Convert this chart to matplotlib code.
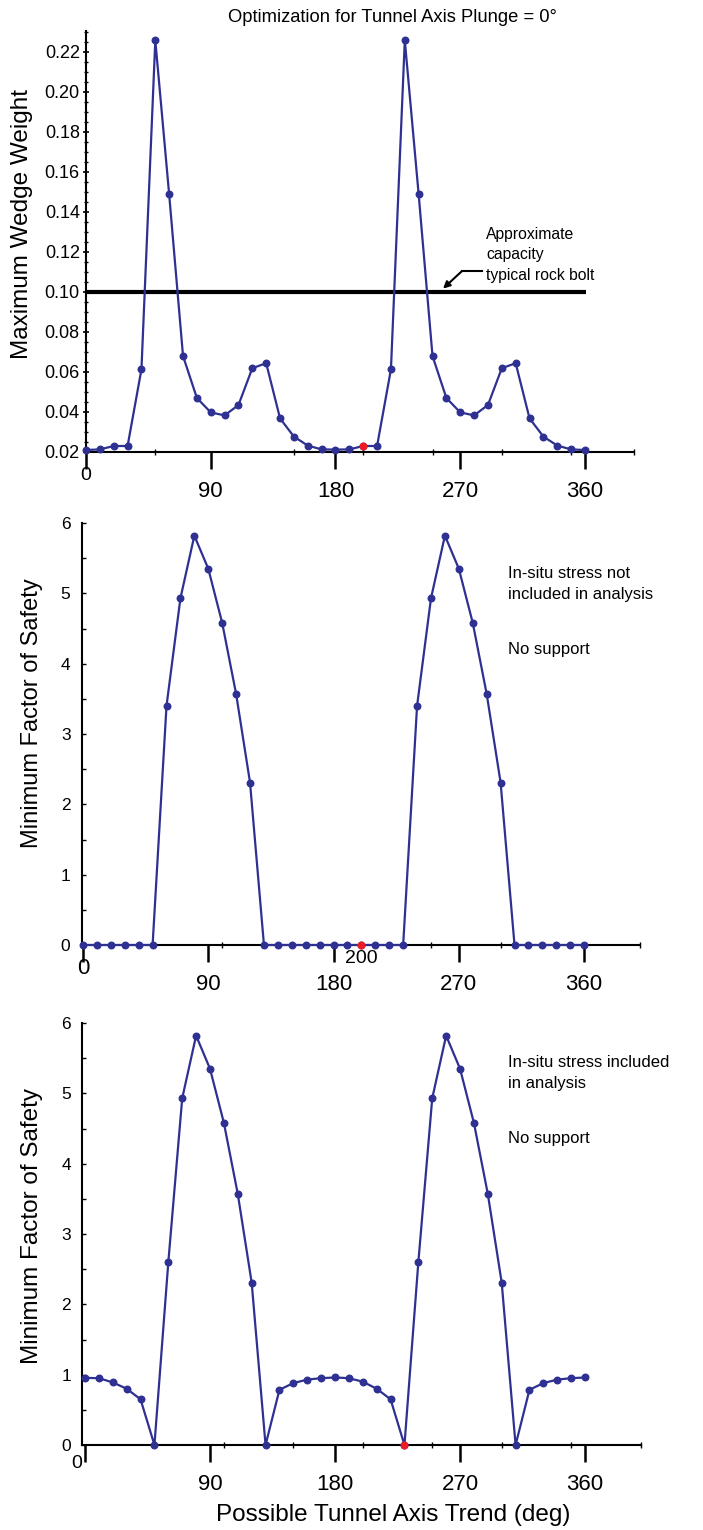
import matplotlib
matplotlib.use("Agg")
import matplotlib.pyplot as plt
from matplotlib.ticker import FixedLocator, MultipleLocator

plt.rcParams['font.family'] = ['Liberation Sans', 'DejaVu Sans']

# ---------------------------------------------- data ----------------------------------------------
trend = [0, 10, 20, 30, 40, 50, 60, 70, 80, 90, 100, 110, 120, 130, 140, 150, 160, 170, 180,
         190, 200, 210, 220, 230, 240, 250, 260, 270, 280, 290, 300, 310, 320, 330, 340, 350, 360]

max_weight = [0.0210, 0.0213, 0.0230, 0.0230, 0.0613, 0.2258, 0.1488, 0.0680, 0.0470, 0.0398,
              0.0383, 0.0435, 0.0619, 0.0644, 0.0368, 0.0277, 0.0232, 0.0213, 0.0212, 0.0213,
              0.0230, 0.0230, 0.0613, 0.2258, 0.1488, 0.0680, 0.0470, 0.0398, 0.0383, 0.0435,
              0.0619, 0.0644, 0.0368, 0.0277, 0.0232, 0.0213, 0.0210]

fs_no_stress = [0, 0, 0, 0, 0, 0, 3.40, 4.93, 5.82, 5.35, 4.58, 3.57, 2.31, 0, 0, 0, 0, 0, 0,
                0, 0, 0, 0, 0, 3.40, 4.93, 5.82, 5.35, 4.58, 3.57, 2.31, 0, 0, 0, 0, 0, 0]

fs_with_stress = [0.955, 0.95, 0.89, 0.80, 0.65, 0, 2.60, 4.93, 5.82, 5.35, 4.58, 3.57, 2.31, 0,
                  0.785, 0.88, 0.93, 0.95, 0.96, 0.95, 0.90, 0.80, 0.65, 0, 2.60, 4.93, 5.82, 5.35,
                  4.58, 3.57, 2.31, 0, 0.785, 0.88, 0.93, 0.95, 0.96]

# optimum trend for each panel (red point)
best_trend = [200, 200, 230]

bolt_capacity = 0.10
bolt_span = [0, 361]

major_ticks = [0, 90, 180, 270, 360]
major_labels = ['', '90', '180', '270', '360']

blue = '#2E3192'
red = '#ED1C24'

W, H = 703, 1530


def rect(left, right, top, bottom):
    # pixel box -> figure fraction
    return [left / W, 1 - bottom / H, (right - left) / W, (bottom - top) / H]


def style_x(ax, minor):
    ax.spines['top'].set_visible(False)
    ax.spines['right'].set_visible(False)
    ax.spines['left'].set_linewidth(1.5)
    ax.spines['bottom'].set_linewidth(1.5)
    ax.set_xticks(major_ticks)
    ax.set_xticklabels(major_labels)
    ax.xaxis.set_minor_locator(FixedLocator(minor))
    ax.tick_params(axis='x', which='major', direction='out', length=12, width=1.8,
                   labelsize=16, pad=9)
    ax.tick_params(axis='x', which='minor', direction='inout', length=4, width=1)


def draw_series(ax, y, best):
    ax.plot(trend, y, color=blue, lw=1.6, marker='o', ms=4.7, clip_on=False, zorder=3)
    i = trend.index(best)
    ax.plot(trend[i], y[i], 'o', color=red, ms=4.7, clip_on=False, zorder=4)


fig = plt.figure(figsize=(W / 100, H / 100), dpi=100)

# ---------------------------------------------- top panel ----------------------------------------------
ax1 = fig.add_axes(rect(86, 633.5, 31, 452))
draw_series(ax1, max_weight, best_trend[0])
ax1.hlines(bolt_capacity, bolt_span[0], bolt_span[1], color='black', lw=3, zorder=2)
ax1.set_xlim(0, 395)
ax1.set_ylim(0.02, 0.2305)
style_x(ax1, [50, 150, 200, 250, 300, 350, 395])
ax1.set_yticks([0.02, 0.04, 0.06, 0.08, 0.10, 0.12, 0.14, 0.16, 0.18, 0.20, 0.22])
ax1.set_yticklabels(['0.02', '0.04', '0.06', '0.08', '0.10', '0.12', '0.14', '0.16',
                     '0.18', '0.20', '0.22'])
ax1.yaxis.set_minor_locator(MultipleLocator(0.005))
ax1.tick_params(axis='y', which='major', direction='inout', length=5, width=1.2,
                labelsize=13, pad=2)
ax1.tick_params(axis='y', which='minor', direction='inout', length=3, width=1)
ax1.annotate('0', xy=(0, 0), xycoords=('data', 'axes fraction'), xytext=(0, -17),
             textcoords='offset points', ha='center', va='center', fontsize=14)

# bolt capacity note
ax1.text(288.6, 0.1325, 'Approximate\ncapacity\ntypical rock bolt', fontsize=11.3,
         ha='left', va='top', linespacing=1.45)
ax1.plot([285.7, 271.3], [0.1105, 0.1105], color='black', lw=1.5)
ax1.annotate('', xy=(257.6, 0.1017), xytext=(271.3, 0.1105),
             arrowprops=dict(arrowstyle='-|>', color='black', lw=1.5,
                             mutation_scale=10, shrinkA=0, shrinkB=0))

fig.text(392 / W, 1 - 17 / H, 'Optimization for Tunnel Axis Plunge = 0°',
         ha='center', va='center', fontsize=13.2)
fig.text(22 / W, 1 - 224 / H, 'Maximum Wedge Weight', rotation=90,
         ha='center', va='center', fontsize=17.5)

# ---------------------------------------------- middle panel ----------------------------------------------
ax2 = fig.add_axes(rect(81.6, 639.8, 523, 945))
draw_series(ax2, fs_no_stress, best_trend[1])
ax2.set_xlim(-1, 400)
ax2.set_ylim(0, 6)
style_x(ax2, [50, 100, 150, 200, 250, 300, 350, 400])
ax2.set_yticks([0, 1, 2, 3, 4, 5, 6])
ax2.yaxis.set_minor_locator(MultipleLocator(0.5))
ax2.tick_params(axis='y', which='both', direction='in', length=3, width=1,
                labelsize=12.5, pad=8)
ax2.annotate('0', xy=(0, 0), xycoords=('data', 'axes fraction'), xytext=(0, -17),
             textcoords='offset points', ha='center', va='center', fontsize=16)
ax2.annotate(str(best_trend[1]), xy=(best_trend[1], 0), xycoords=('data', 'axes fraction'),
             xytext=(0, -9.5), textcoords='offset points', ha='center', va='center',
             fontsize=14)

fig.text(508 / W, 1 - 566 / H, 'In-situ stress not\nincluded in analysis', fontsize=12,
         ha='left', va='top', linespacing=1.5)
fig.text(508 / W, 1 - 649 / H, 'No support', fontsize=12, ha='left', va='center')
fig.text(32 / W, 1 - 713 / H, 'Minimum Factor of Safety', rotation=90,
         ha='center', va='center', fontsize=17)

# ---------------------------------------------- bottom panel ----------------------------------------------
ax3 = fig.add_axes(rect(82.2, 640.6, 1023, 1445))
draw_series(ax3, fs_with_stress, best_trend[2])
ax3.set_xlim(-2, 400)
ax3.set_ylim(0, 6)
style_x(ax3, [50, 100, 150, 200, 250, 300, 350, 400])
ax3.set_yticks([0, 1, 2, 3, 4, 5, 6])
ax3.yaxis.set_minor_locator(MultipleLocator(0.5))
ax3.tick_params(axis='y', which='both', direction='in', length=3, width=1,
                labelsize=12.5, pad=8)
ax3.annotate('0', xy=(-6, 0), xycoords=('data', 'axes fraction'), xytext=(0, -13),
             textcoords='offset points', ha='center', va='center', fontsize=14)

fig.text(508 / W, 1 - 1055 / H, 'In-situ stress included\nin analysis', fontsize=12,
         ha='left', va='top', linespacing=1.5)
fig.text(508 / W, 1 - 1138 / H, 'No support', fontsize=12, ha='left', va='center')
fig.text(32 / W, 1 - 1226 / H, 'Minimum Factor of Safety', rotation=90,
         ha='center', va='center', fontsize=17.5)
fig.text(393 / W, 1 - 1515 / H, 'Possible Tunnel Axis Trend (deg)',
         ha='center', va='center', fontsize=17.5)

fig.savefig('out.png', dpi=100)
